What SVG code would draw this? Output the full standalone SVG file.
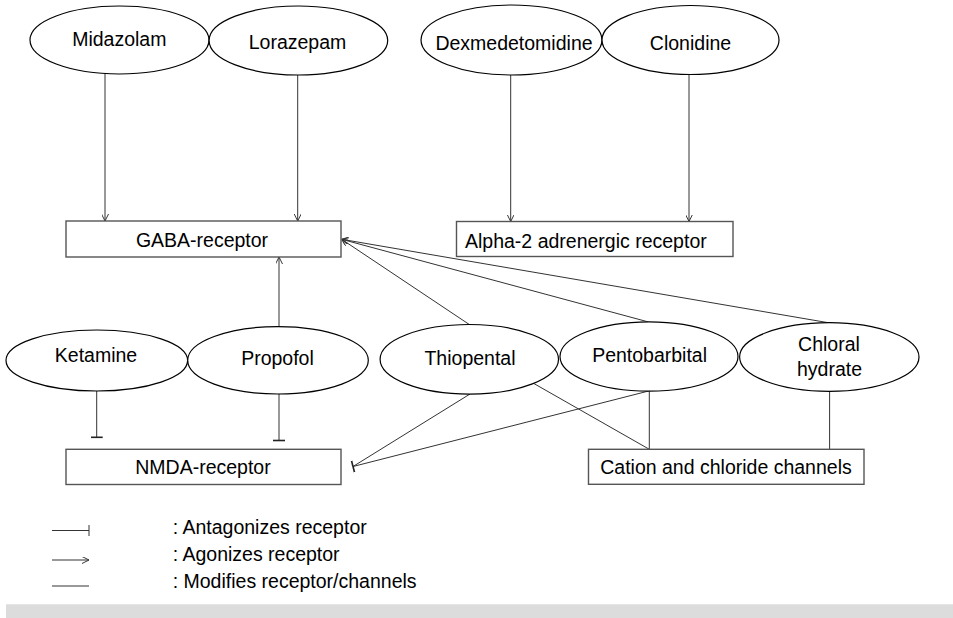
<svg xmlns="http://www.w3.org/2000/svg" width="953" height="618" viewBox="0 0 953 618">
<defs>
<style>
.node ellipse{fill:#fff;stroke:#000;stroke-width:1.2}
.node rect{fill:#fff;stroke:#555;stroke-width:1.4}
text{font-family:"Liberation Sans",Arial,sans-serif;font-size:19.5px;fill:#000}
.c{text-anchor:middle}
.edges line,.edges path,.legend line{stroke:#333;stroke-width:1;fill:none}
</style>
<marker id="arr" viewBox="0 0 10 10" refX="10" refY="5" markerWidth="7" markerHeight="7" markerUnits="userSpaceOnUse" orient="auto">
<path d="M0,0 L10,5 L0,10" fill="none" stroke="#333" stroke-width="1.4"/>
</marker>
<marker id="tee" viewBox="0 0 4 12" refX="2" refY="6" markerWidth="4" markerHeight="12" markerUnits="userSpaceOnUse" orient="auto">
<line x1="2" y1="0" x2="2" y2="12" stroke="#222" stroke-width="1.6"/>
</marker>
</defs>
<rect width="953" height="618" fill="#fff"/>

<g class="edges" id="connectors">
<line x1="105" y1="73.5" x2="105" y2="221" marker-end="url(#arr)"/>
<line x1="297.7" y1="75" x2="297.7" y2="221" marker-end="url(#arr)"/>
<line x1="510.7" y1="75" x2="510.7" y2="221.5" marker-end="url(#arr)"/>
<line x1="689" y1="74" x2="689" y2="221.5" marker-end="url(#arr)"/>
<line x1="279" y1="327" x2="279" y2="257" marker-end="url(#arr)"/>
<line x1="96.7" y1="391" x2="96.7" y2="437.3" marker-end="url(#tee)"/>
<line x1="279" y1="394" x2="279" y2="440.5" marker-end="url(#tee)"/>
<line x1="469.3" y1="324.5" x2="341.7" y2="239.3" marker-end="url(#arr)"/>
<line x1="648.6" y1="322" x2="341.7" y2="239.3" marker-end="url(#arr)"/>
<line x1="830" y1="323" x2="341.7" y2="239.3" marker-end="url(#arr)"/>
<line x1="470" y1="394" x2="353" y2="466.5"/>
<line x1="648.6" y1="391" x2="353" y2="466.5" marker-end="url(#tee)"/>
<line x1="533.5" y1="383.3" x2="649.3" y2="449.3"/>
<line x1="649.3" y1="391" x2="649.3" y2="449.3"/>
<line x1="829.6" y1="391" x2="829.6" y2="449.3"/>
</g>

<g class="node" id="midazolam"><ellipse cx="119.5" cy="40" rx="89.5" ry="34"/><text class="c" x="119.3" y="46">Midazolam</text></g>
<g class="node" id="lorazepam"><ellipse cx="298.4" cy="40.5" rx="89.3" ry="34.5"/><text class="c" x="297.5" y="49">Lorazepam</text></g>
<g class="node" id="dexmedetomidine"><ellipse cx="511.5" cy="40" rx="90.5" ry="35"/><text class="c" x="514" y="50">Dexmedetomidine</text></g>
<g class="node" id="clonidine"><ellipse cx="690.5" cy="40" rx="88.5" ry="34.5"/><text class="c" x="690.5" y="50">Clonidine</text></g>
<g class="node" id="gaba"><rect x="66" y="221" width="275" height="36"/><text class="c" x="202" y="247.3">GABA-receptor</text></g>
<g class="node" id="alpha2"><rect x="456.5" y="221.5" width="276.5" height="35"/><text x="465" y="248">Alpha-2 adrenergic receptor</text></g>
<g class="node" id="ketamine"><ellipse cx="96.8" cy="360.5" rx="90.8" ry="30.5"/><text class="c" x="96" y="362.3">Ketamine</text></g>
<g class="node" id="propofol"><ellipse cx="278" cy="360.3" rx="90.3" ry="33.7"/><text class="c" x="277.5" y="365">Propofol</text></g>
<g class="node" id="thiopental"><ellipse cx="469.3" cy="359.3" rx="89.2" ry="34.8"/><text class="c" x="470" y="365">Thiopental</text></g>
<g class="node" id="pentobarbital"><ellipse cx="649" cy="356.5" rx="89" ry="34.7"/><text class="c" x="649.6" y="362.3">Pentobarbital</text></g>
<g class="node" id="chloral"><ellipse cx="829.3" cy="357" rx="89.7" ry="34.3"/><text class="c" x="829" y="350.7">Chloral</text><text class="c" x="829.5" y="376">hydrate</text></g>
<g class="node" id="nmda"><rect x="66" y="449.3" width="275" height="35.2"/><text class="c" x="203" y="474.3">NMDA-receptor</text></g>
<g class="node" id="channels"><rect x="588.5" y="449.3" width="275.5" height="35"/><text class="c" x="726" y="474">Cation and chloride channels</text></g>

<g class="legend" id="legend">
<line x1="52" y1="530.5" x2="89" y2="530.5"/>
<line x1="89" y1="525" x2="89" y2="536" stroke-width="1.5"/>
<line x1="52" y1="560" x2="89" y2="560" marker-end="url(#arr)"/>
<line x1="52" y1="586" x2="89" y2="586" stroke="#666"/>
<text x="172.7" y="534">: Antagonizes receptor</text>
<text x="172.7" y="561">: Agonizes receptor</text>
<text x="172.7" y="588.3">: Modifies receptor/channels</text>
</g>
<rect x="6" y="604.3" width="947" height="13.7" fill="#dcdcdd"/>
</svg>
